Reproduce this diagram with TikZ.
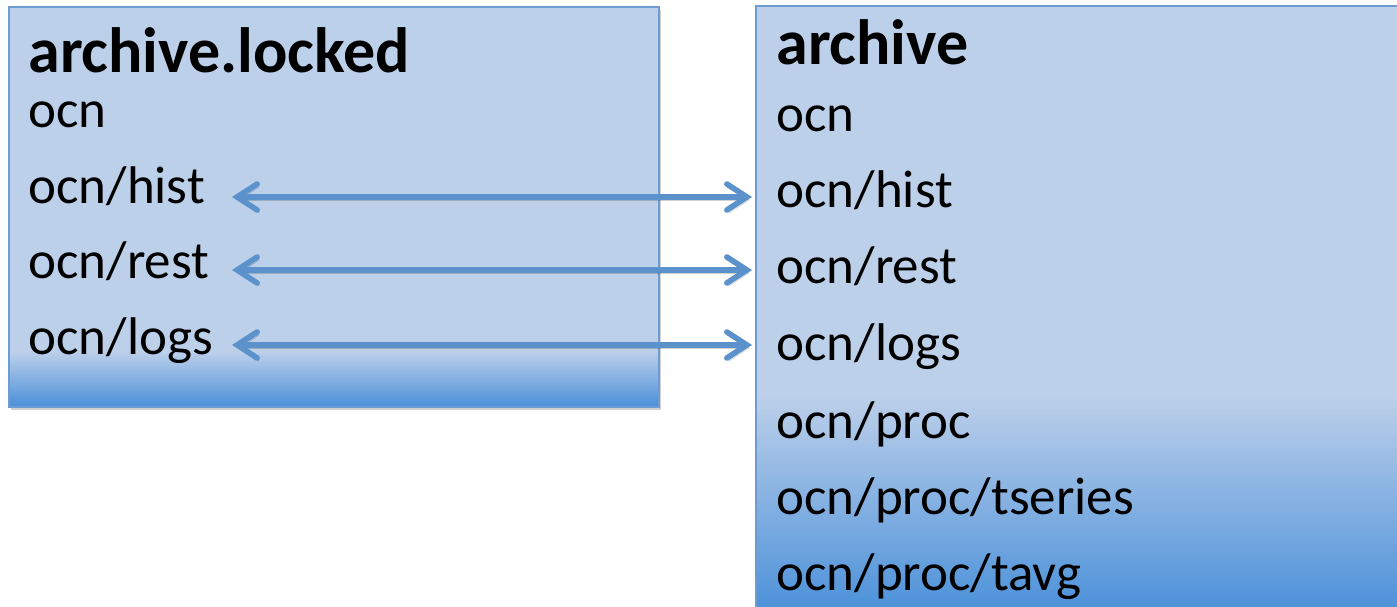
\documentclass[tikz,border=0pt]{standalone}
\usepackage{fontspec}
\setmainfont{Carlito}
\usetikzlibrary{positioning, arrows.meta, shadows, calc}
\definecolor{boxLight}{HTML}{BDD0EA}
\definecolor{boxDeep}{HTML}{4A90D9}
\definecolor{boxEdge}{HTML}{6E9BD0}
\definecolor{linkBlue}{HTML}{5B92CC}
% bottom fades of the two panels (visible part of a shading is 25bp--75bp)
\pgfdeclareverticalshading{lockedfade}{100bp}{color(0bp)=(boxDeep); color(25bp)=(boxDeep);
  color(32bp)=(boxLight); color(100bp)=(boxLight)}
\pgfdeclareverticalshading{archivefade}{100bp}{color(0bp)=(boxDeep); color(25bp)=(boxDeep);
  color(43bp)=(boxLight); color(100bp)=(boxLight)}

\begin{document}
\begin{tikzpicture}[
        x=0.5pt, y=-0.5pt,
        panel/.style={draw=boxEdge, line width=0.8pt, anchor=north west, inner sep=0pt,
          drop shadow={shadow xshift=1.2pt, shadow yshift=-1.5pt, opacity=0.35}},
        title/.style={anchor=base west, inner sep=0pt, font=\fontsize{32}{38}\selectfont\bfseries},
        item/.style={anchor=base west, inner sep=0pt, font=\fontsize{26.5}{32}\selectfont},
        link/.style={{Straight Barb[length=10pt, width=13pt, line cap=round]}-{Straight Barb[length=10pt, width=13pt, line cap=round]},
          line width=2.8pt, draw=linkBlue, line cap=round,
          preaction={draw=black, opacity=0.18, transform canvas={shift={(1pt,-1.5pt)}}}}]
        \useasboundingbox (0,0) rectangle (1397,606);
        \fill[white] (0,0) rectangle (1397,606);
        % the two panels
        \node[panel, shading=lockedfade, minimum width=325pt, minimum height=200pt] (lbox) at (8,6) {};
        \node[panel, shading=archivefade, minimum width=325pt, minimum height=304pt] (rbox) at (755,5) {};
        % archive.locked
        \node[title] (ltitle) at (28,72) {archive.locked};
        \node[item] (locn)  at (28,127) {ocn};
        \node[item] (lhist) at (28,203) {ocn/hist};
        \node[item] (lrest) at (28,278) {ocn/rest};
        \node[item] (llogs) at (28,354) {ocn/logs};
        % archive
        \node[title] (rtitle) at (776,64) {archive};
        \node[item] (rocn)  at (776,131) {ocn};
        \node[item] (rhist) at (776,207) {ocn/hist};
        \node[item] (rrest) at (776,283) {ocn/rest};
        \node[item] (rlogs) at (776,360) {ocn/logs};
        \node[item] (rproc) at (776,438) {ocn/proc};
        \node[item] (rtser) at (776,514) {ocn/proc/tseries};
        \node[item] (rtavg) at (776,590) {ocn/proc/tavg};
        % links between the matching directories
        \draw[link] ($(lhist.base west)+(204,-6)$) -- ($(lhist.base west -| rbox.west)+(-3,-6)$);
        \draw[link] ($(lrest.base west)+(204,-8)$) -- ($(lrest.base west -| rbox.west)+(-3,-8)$);
        \draw[link] ($(llogs.base west)+(204,-9)$) -- ($(llogs.base west -| rbox.west)+(-3,-9)$);
\end{tikzpicture}
\end{document}
